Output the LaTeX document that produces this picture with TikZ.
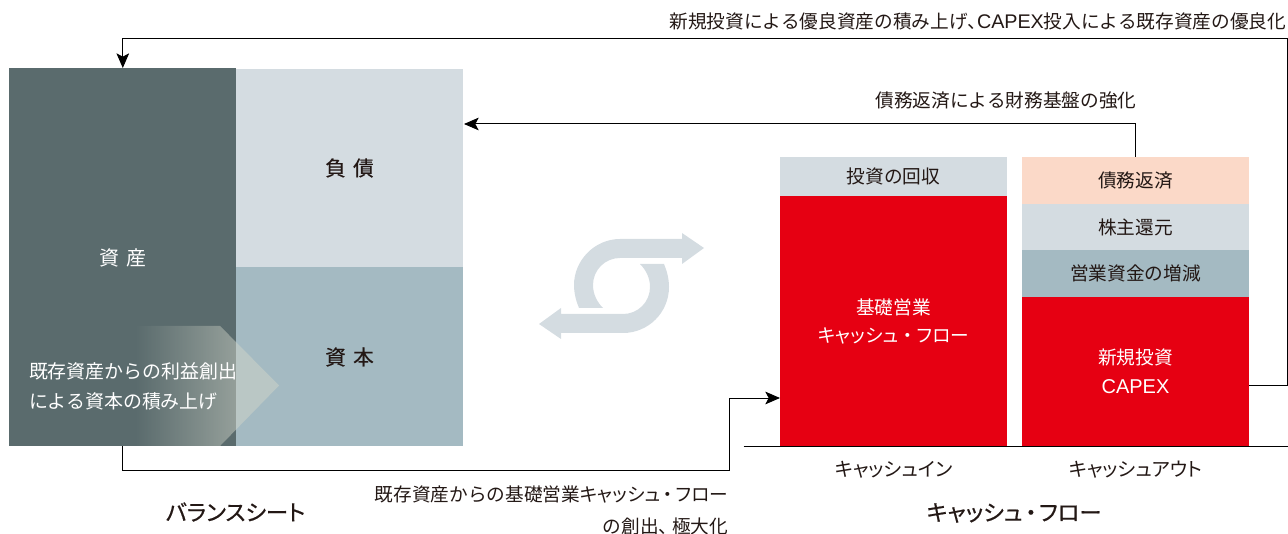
\documentclass[tikz,border=0pt]{standalone}
\usepackage{fontspec}
\setmainfont{Noto Sans CJK JP}
\newfontfamily\paltfont[RawFeature=+palt]{Noto Sans CJK JP}
\newfontfamily\medfont[FakeBold=0.35]{Noto Sans CJK JP}
\newfontfamily\medpalt[RawFeature=+palt,FakeBold=0.6]{Noto Sans CJK JP}
\newfontfamily\latinfont{Liberation Sans}
\newcommand{\capexword}{{\latinfont\fontsize{15pt}{15pt}\selectfont CAPEX}}
\usetikzlibrary{arrows.meta,fadings,shapes.geometric}
\definecolor{cdark}{HTML}{5A6B6D}
\definecolor{clight}{HTML}{D4DCE1}
\definecolor{cmid}{HTML}{A4BAC2}
\definecolor{cred}{HTML}{E60012}
\definecolor{cpeach}{HTML}{FBD9C8}
\definecolor{ctext}{HTML}{231815}
\definecolor{cwash}{HTML}{D0D4C8}
\tikzfading[name=fadeArrow,left color=transparent!100,right color=transparent!50]
\tikzset{
  block/.style={draw=none,inner sep=0pt,outer sep=0pt,anchor=north west,align=center,font=\fontsize{14pt}{21pt}\selectfont},
  lbl/.style={inner sep=0pt,outer sep=0pt,text=ctext,font=\fontsize{14pt}{21pt}\selectfont},
  heading/.style={lbl,font=\fontsize{16.7pt}{21pt}\medpalt},
  flow/.style={draw=black,line width=0.75pt,-{Stealth[length=11pt,width=9.5pt,inset=2.5pt]}},
}
\begin{document}
\begin{tikzpicture}[x=0.75pt,y=-0.75pt]
\useasboundingbox (0,0) rectangle (1288,534);
% balance sheet
\node[block,fill=cdark,minimum width=170.25pt,minimum height=283.5pt,text=white] (assets) at (9,68) {};
\node[block,fill=clight,minimum width=170.25pt,minimum height=148.5pt] (debt) at (236,69) {};
\node[block,fill=cmid,minimum width=170.25pt,minimum height=134.25pt] (capital) at (236,267) {};
\node[lbl,text=white,font=\fontsize{15pt}{21pt}\selectfont] (assetsL) at (123,258) {資\hspace{0.4em}産};
\node[lbl,font=\fontsize{15.5pt}{21pt}\medfont] (debtL) at (349.5,168) {負\hspace{0.35em}債};
\node[lbl,font=\fontsize{15.5pt}{21pt}\medfont] (capitalL) at (349.5,357) {資\hspace{0.35em}本};
% gradient arrow
\fill[cwash,path fading=fadeArrow] (135,326) -- (220,326) -- (236,342.1) -- (236,429.6) -- (220,446) -- (135,446) -- cycle;
\fill[cwash,opacity=0.5] (236,342.1) -- (279,385.5) -- (236,429.6) -- cycle;
\node[lbl,text=white,anchor=west,align=left,font=\fontsize{14.2pt}{22.5pt}\selectfont] (earn) at (29,386) {既存資産からの利益創出\\による資本の積み上げ};
% cycle arrow
\fill[clight] (704,248) -- (682,233) -- (682,239) -- (620,239)
  .. controls (594.6,239) and (574,260.4) .. (574,285)
  .. controls (574,293) and (576,301) .. (579,308)
  -- (603,308)
  .. controls (597,302) and (593,294) .. (593,285)
  .. controls (593,270) and (605,258) .. (620,258)
  -- (682,258) -- (682,264) -- cycle;
\fill[clight] (539,324) -- (561,308) -- (561,314) -- (623,314)
  .. controls (638,314) and (650,302) .. (650,287)
  .. controls (650,278) and (646,270) .. (640,264)
  -- (664,264)
  .. controls (667,271) and (669,279) .. (669,287)
  .. controls (669,312.4) and (648.4,333) .. (623,333)
  -- (561,333) -- (561,339) -- cycle;
% cash in
\node[block,fill=clight,minimum width=170.25pt,minimum height=29.25pt,text=ctext] (recover) at (780,157) {投資の回収};
\node[block,fill=cred,minimum width=170.25pt,minimum height=187.5pt] (opcf) at (780,196) {};
\node[lbl,text=white,align=center,font=\fontsize{14pt}{21pt}\selectfont] (opcfL) at (893.5,321) {基礎営業\\{\paltfont キャッシュ\hspace{0.24em}・\hspace{0.24em}フロー}};
% cash out
\node[block,fill=cpeach,minimum width=170.25pt,minimum height=35.25pt,text=ctext] (repay) at (1022,157) {債務返済};
\node[block,fill=clight,minimum width=170.25pt,minimum height=34.5pt,text=ctext] (return) at (1022,204) {株主還元};
\node[block,fill=cmid,minimum width=170.25pt,minimum height=35.25pt,text=ctext] (wc) at (1022,250) {営業資金の増減};
\node[block,fill=cred,minimum width=170.25pt,minimum height=112.5pt] (capex) at (1022,297) {};
\node[lbl,text=white,align=center,font=\fontsize{14pt}{21.75pt}\selectfont] (capexL) at (1135.5,371) {新規投資\\\capexword};
% axis
\coordinate (axisL) at (743.5,446);
\coordinate (axisR) at (1288,446);
\draw[black,line width=0.75pt] (axisL) -- (axisR);
% connectors
\coordinate (c1a) at (1287,385);
\coordinate (c1b) at (1287,39);
\coordinate (c1c) at (122.8,39);
\coordinate (assetTop) at (122.8,68);
\draw[flow] (capex.east |- c1a) -- (c1a) -- (c1b) -- (c1c) -- (assetTop);
\coordinate (c2a) at (1135.5,157);
\coordinate (c2b) at (1135.5,124);
\coordinate (debtR) at (464,124);
\draw[flow] (c2a) -- (c2b) -- (debtR);
\coordinate (c3a) at (122.8,446);
\coordinate (c3b) at (122.8,470);
\coordinate (c3c) at (729.5,470);
\coordinate (c3d) at (729.5,398);
\coordinate (opcfW) at (780,398);
\draw[flow] (c3a) -- (c3b) -- (c3c) -- (c3d) -- (opcfW);
% labels
\node[lbl,anchor=east] (t1) at (1286,21) {新規投資による優良資産の積み上げ{\paltfont 、}{\latinfont\fontsize{14.8pt}{15pt}\selectfont CAPEX}投入による既存資産の優良化};
\node[lbl] (t2) at (1006,100) {債務返済による財務基盤の強化};
\node[lbl,anchor=east,align=right,font=\fontsize{14pt}{24pt}\selectfont] (t3) at (728,510) {既存資産からの基礎営業{\paltfont キャッシュ\hspace{0.16em}・\hspace{0.16em}フロー}\\の創出{\paltfont 、}\hspace{0.2em}極大化};
\node[lbl,font=\fontsize{14.5pt}{21pt}\paltfont] (t4) at (893.5,470) {キャッシュイン};
\node[lbl,font=\fontsize{14.5pt}{21pt}\paltfont] (t5) at (1135.5,470) {キャッシュアウト};
\node[heading] (t6) at (235.5,512) {バランスシート};
\node[heading] (t7) at (1014,513) {キャッシュ\hspace{0.12em}・\hspace{0.12em}フロー};
\end{tikzpicture}
\end{document}
